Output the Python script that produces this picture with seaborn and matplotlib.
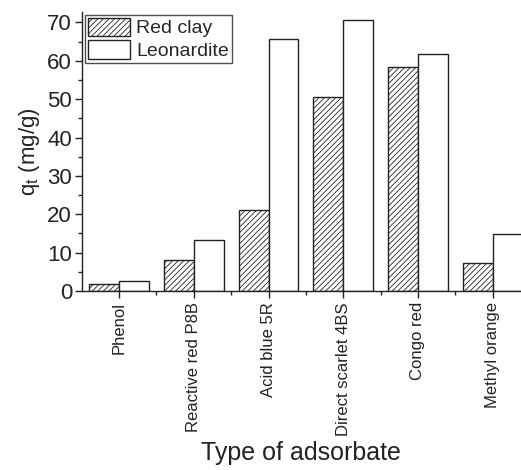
import numpy as np
import pandas as pd
import matplotlib
matplotlib.use("Agg")
import matplotlib.pyplot as plt
from matplotlib.ticker import MultipleLocator, FixedLocator
import seaborn as sns

# data
adsorbates = ["Phenol", "Reactive red P8B", "Acid blue 5R",
              "Direct scarlet 4BS", "Congo red", "Methyl orange"]
red_clay = [1.8, 8.0, 21.0, 50.7, 58.4, 7.4]
leonardite = [2.5, 13.3, 65.7, 70.7, 61.8, 14.8]
sorbents = ["Red clay", "Leonardite"]

df = pd.DataFrame({
    "adsorbate": adsorbates * 2,
    "sorbent": [sorbents[0]] * len(adsorbates) + [sorbents[1]] * len(adsorbates),
    "qt": red_clay + leonardite,
})

sns.set_theme(style="ticks")
plt.rcParams["font.family"] = ["Liberation Sans", "DejaVu Sans"]
plt.rcParams["hatch.color"] = "#333333"
plt.rcParams["hatch.linewidth"] = 0.6

fig = plt.figure(figsize=(5.21, 4.70), dpi=100)
ax = fig.add_axes([0.157, 0.381, 0.843, 0.594])

sns.barplot(data=df, x="adsorbate", y="qt", hue="sorbent",
            palette=["white", "white"], edgecolor="#222222", linewidth=1.0,
            width=0.8, saturation=1, ax=ax, legend=False)

# hatch the red clay bars
for bar in ax.containers[0]:
    bar.set_hatch("//////")

ax.legend(ax.containers, sorbents, loc="upper left", fontsize=14,
          frameon=True, fancybox=False, edgecolor="#222222",
          borderaxespad=0.15, handlelength=2.2, handleheight=1.08,
          handletextpad=0.3, borderpad=0.15, labelspacing=0.15)
ax.get_legend().get_frame().set_linewidth(1.0)

ax.set_xlim(-0.5, 5.38)
ax.set_ylim(0, 72.8)
ax.yaxis.set_major_locator(MultipleLocator(10))
ax.yaxis.set_minor_locator(MultipleLocator(5))
ax.xaxis.set_minor_locator(FixedLocator(np.arange(0.5, 5.5, 1)))

ax.set_xticks(range(len(adsorbates)))
ax.set_xticklabels(adsorbates, rotation=90, fontsize=12, color="#222222")
ax.tick_params(axis="y", labelsize=16, colors="#222222", pad=2)
ax.tick_params(axis="x", pad=3)
ax.tick_params(which="major", length=5, width=1.0, color="#222222")
ax.tick_params(which="minor", length=3, width=1.0, color="#222222")

ax.set_xlabel("Type of adsorbate", fontsize=18, color="#222222", labelpad=4)
ax.set_ylabel(r"q$_\mathregular{t}$ (mg/g)", fontsize=16, color="#222222", labelpad=4)

for s in ["top", "right"]:
    ax.spines[s].set_visible(False)
for s in ["left", "bottom"]:
    ax.spines[s].set_color("#222222")
    ax.spines[s].set_linewidth(1.0)

fig.savefig("out.png", dpi=100)
